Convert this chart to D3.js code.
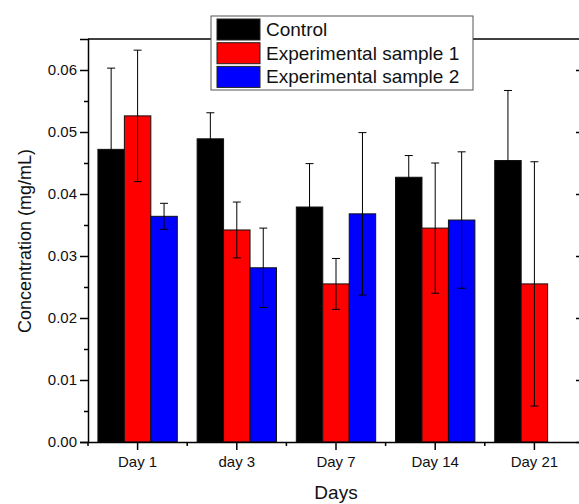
<!DOCTYPE html>
<html>
<head>
<meta charset="utf-8">
<script src="https://cdn.jsdelivr.net/npm/d3@7"></script>
<style>
  body { margin: 0; background: #fff; }
  svg { display: block; font-family: Arial, "Liberation Sans", sans-serif; }
</style>
</head>
<body>
<svg id="chart" width="579" height="504"></svg>
<script>
// data
const days = ["Day 1", "day 3", "Day 7", "Day 14", "Day 21"];
const seriesNames = ["Control", "Experimental sample 1", "Experimental sample 2"];
const seriesColors = ["#000000", "#ff0000", "#0000ff"];

const control    = [0.0472, 0.0489, 0.0379, 0.0427, 0.0454];
const controlErr = [0.0131, 0.0042, 0.0070, 0.0035, 0.0113];
const exp1       = [0.0526, 0.0342, 0.0255, 0.0345, 0.0255];
const exp1Err    = [0.0106, 0.0045, 0.0041, 0.0105, 0.0197];
const exp2       = [0.0364, 0.0281, 0.0368, 0.0358, null];
const exp2Err    = [0.0021, 0.0064, 0.0131, 0.0110, null];

const yTicks = [0, 0.01, 0.02, 0.03, 0.04, 0.05, 0.06];
const yMinorTicks = [0.005, 0.015, 0.025, 0.035, 0.045, 0.055];

const values = [control, exp1, exp2];
const errors = [controlErr, exp1Err, exp2Err];

let padding = {top: 39, right: -5, bottom: 62, left: 88};
const width = 579, height = 504;

const svg = d3.select("#chart");

// scales
let x0 = d3.scaleBand()
  .domain(days)
  .range([padding.left, width - padding.right])
  .padding(0);

let x1 = d3.scaleBand()
  .domain(seriesNames)
  .range([x0.bandwidth() * 0.1, x0.bandwidth() * 0.9])
  .padding(0);

let y = d3.scaleLinear()
  .domain([0, 0.065])
  .range([height - padding.bottom, padding.top]);

// flatten into one row per bar
const bars = [];
days.forEach(function(d, i) {
  seriesNames.forEach(function(s, j) {
    if (values[j][i] !== null) {
      bars.push({day: d, series: s, color: seriesColors[j], value: values[j][i], err: errors[j][i]});
    }
  });
});

// bars
svg.append("g")
  .selectAll("rect")
  .data(bars)
  .join("rect")
    .attr("x", d => x0(d.day) + x1(d.series))
    .attr("y", d => y(d.value))
    .attr("width", x1.bandwidth())
    .attr("height", d => y(0) - y(d.value))
    .attr("fill", d => d.color)
    .attr("stroke", "#111")
    .attr("stroke-width", 1);

// error bars
const capHalf = 4;
const eb = svg.append("g")
  .attr("stroke", "#000")
  .attr("stroke-width", 1)
  .selectAll("g")
  .data(bars)
  .join("g")
    .attr("transform", d => "translate(" + (x0(d.day) + x1(d.series) + x1.bandwidth() / 2) + ",0)");

eb.append("line")
  .attr("x1", 0).attr("x2", 0)
  .attr("y1", d => y(d.value + d.err))
  .attr("y2", d => y(d.value - d.err));
eb.append("line")
  .attr("x1", -capHalf).attr("x2", capHalf)
  .attr("y1", d => y(d.value + d.err))
  .attr("y2", d => y(d.value + d.err));
eb.append("line")
  .attr("x1", -capHalf).attr("x2", capHalf)
  .attr("y1", d => y(d.value - d.err))
  .attr("y2", d => y(d.value - d.err));

// left axis
svg.append("g")
  .attr("class", "axis y")
  .attr("transform", "translate(" + padding.left + ",0)")
  .call(d3.axisLeft(y).tickValues(yTicks).tickFormat(d3.format(".2f")).tickSize(8).tickPadding(3));
svg.append("g")
  .attr("transform", "translate(" + padding.left + ",0)")
  .call(d3.axisLeft(y).tickValues(yMinorTicks).tickFormat("").tickSize(4))
  .select(".domain").remove();

// right axis (ticks inward)
svg.append("g")
  .attr("transform", "translate(" + (width - padding.right) + ",0)")
  .call(d3.axisLeft(y).tickValues(yTicks).tickFormat("").tickSize(8).tickSizeOuter(0));

// top line
svg.append("line")
  .attr("x1", padding.left).attr("x2", width - padding.right)
  .attr("y1", padding.top).attr("y2", padding.top)
  .attr("stroke", "#000").attr("stroke-width", 1.5);

// bottom axis
svg.append("g")
  .attr("class", "axis x")
  .attr("transform", "translate(0," + (height - padding.bottom) + ")")
  .call(d3.axisBottom(x0).tickSize(8).tickSizeOuter(0).tickPadding(6));

// minor ticks at band boundaries
svg.append("g")
  .attr("stroke", "#000")
  .attr("stroke-width", 1.5)
  .selectAll("line")
  .data(days)
  .join("line")
    .attr("x1", d => x0(d)).attr("x2", d => x0(d))
    .attr("y1", y(0)).attr("y2", y(0) + 4);

svg.selectAll(".domain").attr("stroke-width", 1.5);
svg.selectAll(".tick line").attr("stroke-width", 1.5);
svg.selectAll(".axis text").attr("font-size", 15).attr("font-family", "Arial, 'Liberation Sans', sans-serif").attr("fill", "#111");

// axis titles
svg.append("text")
  .attr("x", (padding.left + width - padding.right) / 2)
  .attr("y", 499)
  .attr("text-anchor", "middle")
  .attr("font-size", 19)
  .attr("fill", "#111")
  .text("Days");

svg.append("text")
  .attr("transform", "rotate(-90)")
  .attr("x", -241)
  .attr("y", 31)
  .attr("text-anchor", "middle")
  .attr("font-size", 18)
  .attr("fill", "#111")
  .text("Concentration (mg/mL)");

// legend
const legend = svg.append("g").attr("transform", "translate(211,16)");
legend.append("rect")
  .attr("width", 262).attr("height", 74)
  .attr("fill", "#fff")
  .attr("stroke", "#555")
  .attr("stroke-width", 1);
const li = legend.selectAll("g.item")
  .data(seriesNames)
  .join("g")
    .attr("class", "item")
    .attr("transform", (d, i) => "translate(6," + (3 + i * 23.7) + ")");
li.append("rect")
  .attr("width", 43).attr("height", 21)
  .attr("fill", (d, i) => seriesColors[i])
  .attr("stroke", "#222");
li.append("text")
  .attr("x", 49)
  .attr("y", 17)
  .attr("font-size", 19)
  .attr("fill", "#111")
  .text(d => d);
</script>
</body>
</html>
